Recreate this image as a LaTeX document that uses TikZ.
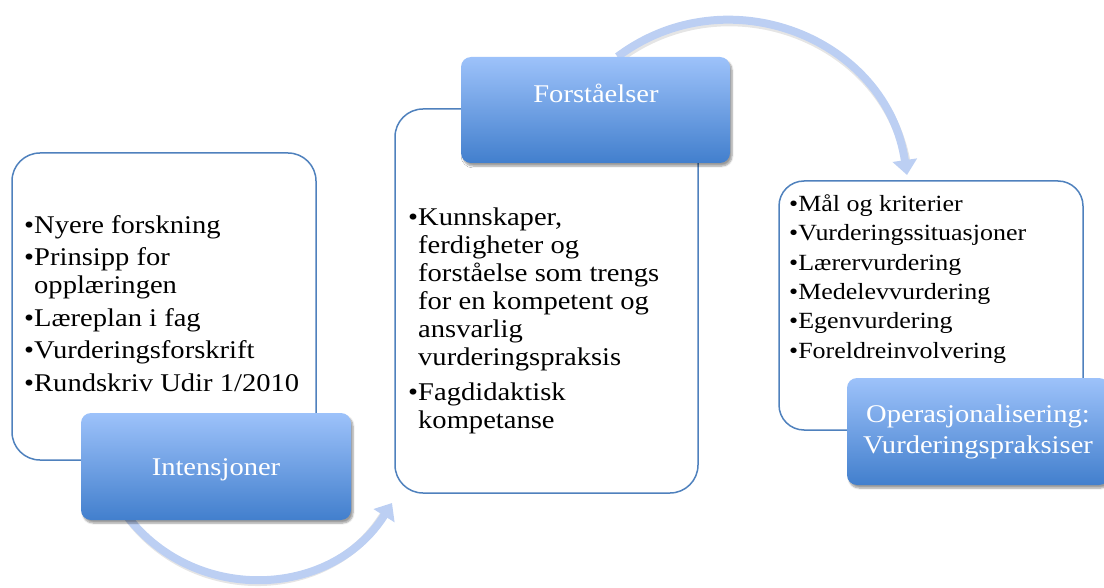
\documentclass[tikz,border=0pt]{standalone}
\usepackage{fontspec}
\setmainfont{Liberation Serif}[FakeStretch=1.12]
\usetikzlibrary{arrows.meta,shadows.blur}
\definecolor{boxline}{RGB}{79,129,189}
\definecolor{btop}{RGB}{157,194,250}
\definecolor{bbot}{RGB}{66,127,205}
\definecolor{arrowc}{RGB}{188,207,243}
\tikzset{
  whitebox/.style={draw=boxline, line width=1.5pt, fill=white, rounded corners=28pt, inner sep=0pt},
  bluebox/.style={rounded corners=10pt, top color=btop, bottom color=bbot, inner sep=0pt,
    blur shadow={shadow xshift=2pt, shadow yshift=-3pt, shadow blur steps=6, shadow opacity=40}},
  bluelabel/.style={text=white, inner sep=0pt, anchor=base, font=\fontsize{25.5}{30}\selectfont},
  bodytext/.style={anchor=north west, inner sep=0pt, align=left, font=\fontsize{25.5}{28}\selectfont},
  smalltext/.style={anchor=north west, inner sep=0pt, align=left, font=\fontsize{23.2}{29.5}\selectfont},
  flow/.style={line width=8pt, draw=arrowc, -{Triangle[width=24pt,length=15pt]}},
  flowshadow/.style={line width=8pt, draw=black, opacity=0.10}
}
\begin{document}
\begin{tikzpicture}[x=1pt,y=-1pt]
\useasboundingbox (0,0) rectangle (1104,588);

% arrow end points
\coordinate (a1s) at (124,512);
\coordinate (a1e) at (392,503);
\coordinate (a2s) at (617.5,56.7);
\coordinate (a2e) at (907,175);

% arrows (behind boxes)
\draw[flowshadow, transform canvas={xshift=1.5pt,yshift=-2.5pt}] (a1s) .. controls (191,605) and (331,600) .. ($(a1e)+(-8,6)$);
\draw[flow] (a1s) .. controls (191,605) and (331,600) .. (a1e);
\draw[flowshadow, transform canvas={xshift=1.5pt,yshift=-2.5pt}] (a2s) .. controls (728,-26) and (887,39) .. ($(a2e)+(-1,-10)$);
\draw[flow] (a2s) .. controls (728,-26) and (887,39) .. (a2e);

% white boxes
\node[whitebox, minimum width=304pt, minimum height=307pt] (w1) at (164,306.5) {};
\node[whitebox, minimum width=303pt, minimum height=384pt] (w2) at (546.5,301) {};
\node[whitebox, rounded corners=25pt, minimum width=304pt, minimum height=249pt] (w3) at (931,305.5) {};

% body texts
\node[bodytext] (t1) at (24,215) {•Nyere forskning\\[4.5pt]
•Prinsipp for\\
\phantom{•}opplæringen\\[4.5pt]
•Læreplan i fag\\[4.5pt]
•Vurderingsforskrift\\[4.5pt]
•Rundskriv Udir 1/2010};

\node[bodytext] (t2) at (408,208) {•Kunnskaper,\\
\phantom{•}ferdigheter og\\
\phantom{•}forståelse som trengs\\
\phantom{•}for en kompetent og\\
\phantom{•}ansvarlig\\
\phantom{•}vurderingspraksis\\[7pt]
•Fagdidaktisk\\
\phantom{•}kompetanse};

\node[smalltext] (t3) at (789,194) {•Mål og kriterier\\
•Vurderingssituasjoner\\
•Lærervurdering\\
•Medelevvurdering\\
•Egenvurdering\\
•Foreldreinvolvering};

% blue boxes
\node[bluebox, minimum width=270pt, minimum height=107pt] (b1) at (216,466.5) {};
\node[bluebox, minimum width=269pt, minimum height=106pt] (b2) at (595.5,110) {};
\node[bluebox, minimum width=262pt, minimum height=107pt] (b3) at (978,431.5) {};

\node[bluelabel] (l1) at (216,475) {Intensjoner};
\node[bluelabel] (l2) at (596,103) {Forståelser};
\node[bluelabel] (l3a) at (978,422) {Operasjonalisering:};
\node[bluelabel] (l3b) at (978,453) {Vurderingspraksiser};
\end{tikzpicture}
\end{document}
